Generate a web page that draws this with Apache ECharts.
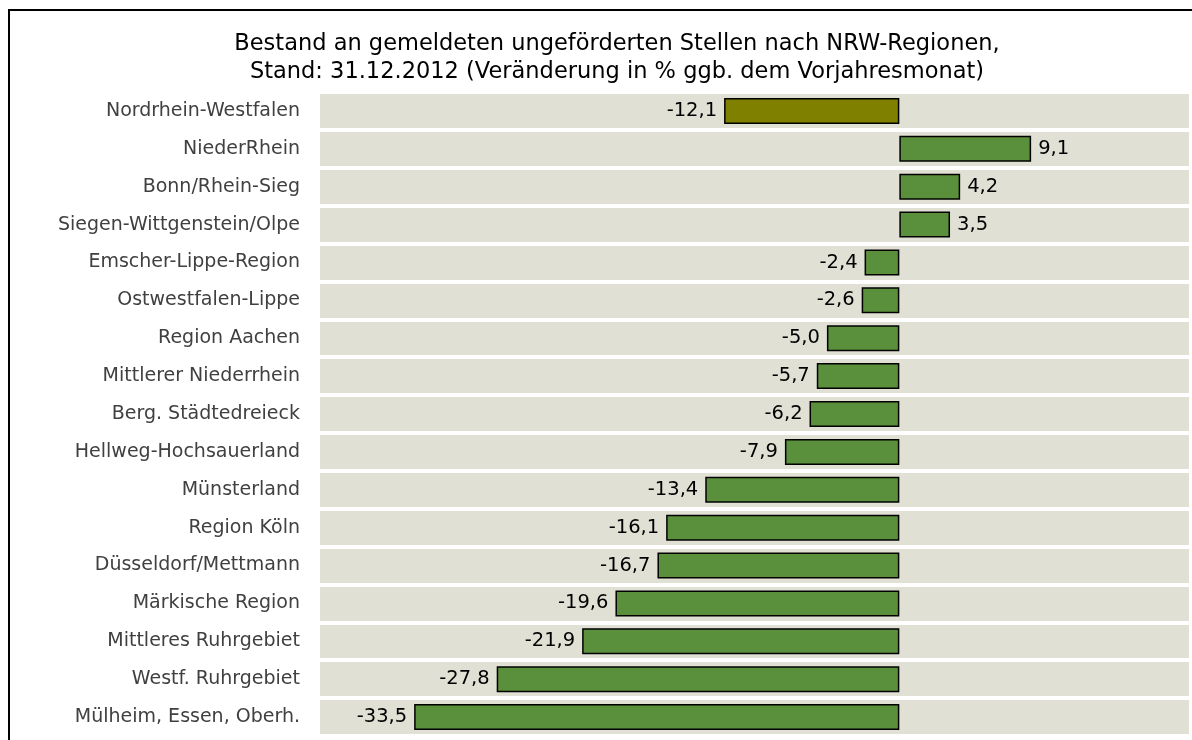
<!DOCTYPE html>
<html>
<head>
<meta charset="utf-8">
<script src="https://cdn.jsdelivr.net/npm/echarts@6/dist/echarts.min.js"></script>
<style>
  html, body { margin: 0; padding: 0; background: #fff; }
  #chart { width: 1192px; height: 740px; }
</style>
</head>
<body>
<div id="chart"></div>
<script>
const regions = [
  "Nordrhein-Westfalen",
  "NiederRhein",
  "Bonn/Rhein-Sieg",
  "Siegen-Wittgenstein/Olpe",
  "Emscher-Lippe-Region",
  "Ostwestfalen-Lippe",
  "Region Aachen",
  "Mittlerer Niederrhein",
  "Berg. Städtedreieck",
  "Hellweg-Hochsauerland",
  "Münsterland",
  "Region Köln",
  "Düsseldorf/Mettmann",
  "Märkische Region",
  "Mittleres Ruhrgebiet",
  "Westf. Ruhrgebiet",
  "Mülheim, Essen, Oberh."
];
const changes = [-12.1, 9.1, 4.2, 3.5, -2.4, -2.6, -5.0, -5.7, -6.2, -7.9, -13.4, -16.1, -16.7, -19.6, -21.9, -27.8, -33.5];

const titleText = "Bestand an gemeldeten ungeförderten Stellen nach NRW-Regionen,\nStand: 31.12.2012 (Veränderung in % ggb. dem Vorjahresmonat)";

const chart = echarts.init(document.getElementById("chart"));

const fmt = (v) => v.toFixed(1).replace(".", ",");

chart.setOption({
  animation: false,
  textStyle: { fontFamily: "DejaVu Sans" },
  title: {
    text: titleText,
    left: 612,
    textAlign: "center",
    top: 25,
    textStyle: {
      fontSize: 22.5,
      fontWeight: "normal",
      color: "#000",
      lineHeight: 28,
      fontFamily: "DejaVu Sans"
    }
  },
  graphic: [
    { type: "line", shape: { x1: 8, y1: 10, x2: 1192, y2: 10 }, style: { stroke: "#000", lineWidth: 2 } },
    { type: "line", shape: { x1: 9, y1: 10, x2: 9, y2: 740 }, style: { stroke: "#000", lineWidth: 2 } }
  ],
  grid: {
    left: 320,
    right: 3,
    top: 92,
    bottom: 4,
    containLabel: false
  },
  xAxis: {
    type: "value",
    min: -40,
    max: 20,
    show: false
  },
  yAxis: {
    type: "category",
    inverse: true,
    data: regions,
    axisLine: { show: false },
    axisTick: { show: false },
    axisLabel: {
      margin: 20,
      fontSize: 19,
      color: "#404040",
      fontFamily: "DejaVu Sans"
    },
    splitArea: {
      show: true,
      areaStyle: { color: ["#e0e0d4", "#e0e0d4"] }
    },
    splitLine: {
      show: true,
      lineStyle: { color: "#fff", width: 4 }
    }
  },
  series: [
    {
      type: "bar",
      data: changes.map((v, i) => ({
        value: v,
        itemStyle: { color: i === 0 ? "#7f7f00" : "#5a8f3b" },
        label: { position: v < 0 ? "left" : "right" }
      })),
      barWidth: 26,
      itemStyle: {
        borderColor: "#000",
        borderWidth: 1.5
      },
      label: {
        show: true,
        distance: 7,
        fontSize: 19.5,
        color: "#000",
        fontFamily: "DejaVu Sans",
        formatter: (p) => fmt(p.value)
      }
    }
  ]
});

window.addEventListener("resize", () => {
  chart && chart.resize();
});
</script>
</body>
</html>
